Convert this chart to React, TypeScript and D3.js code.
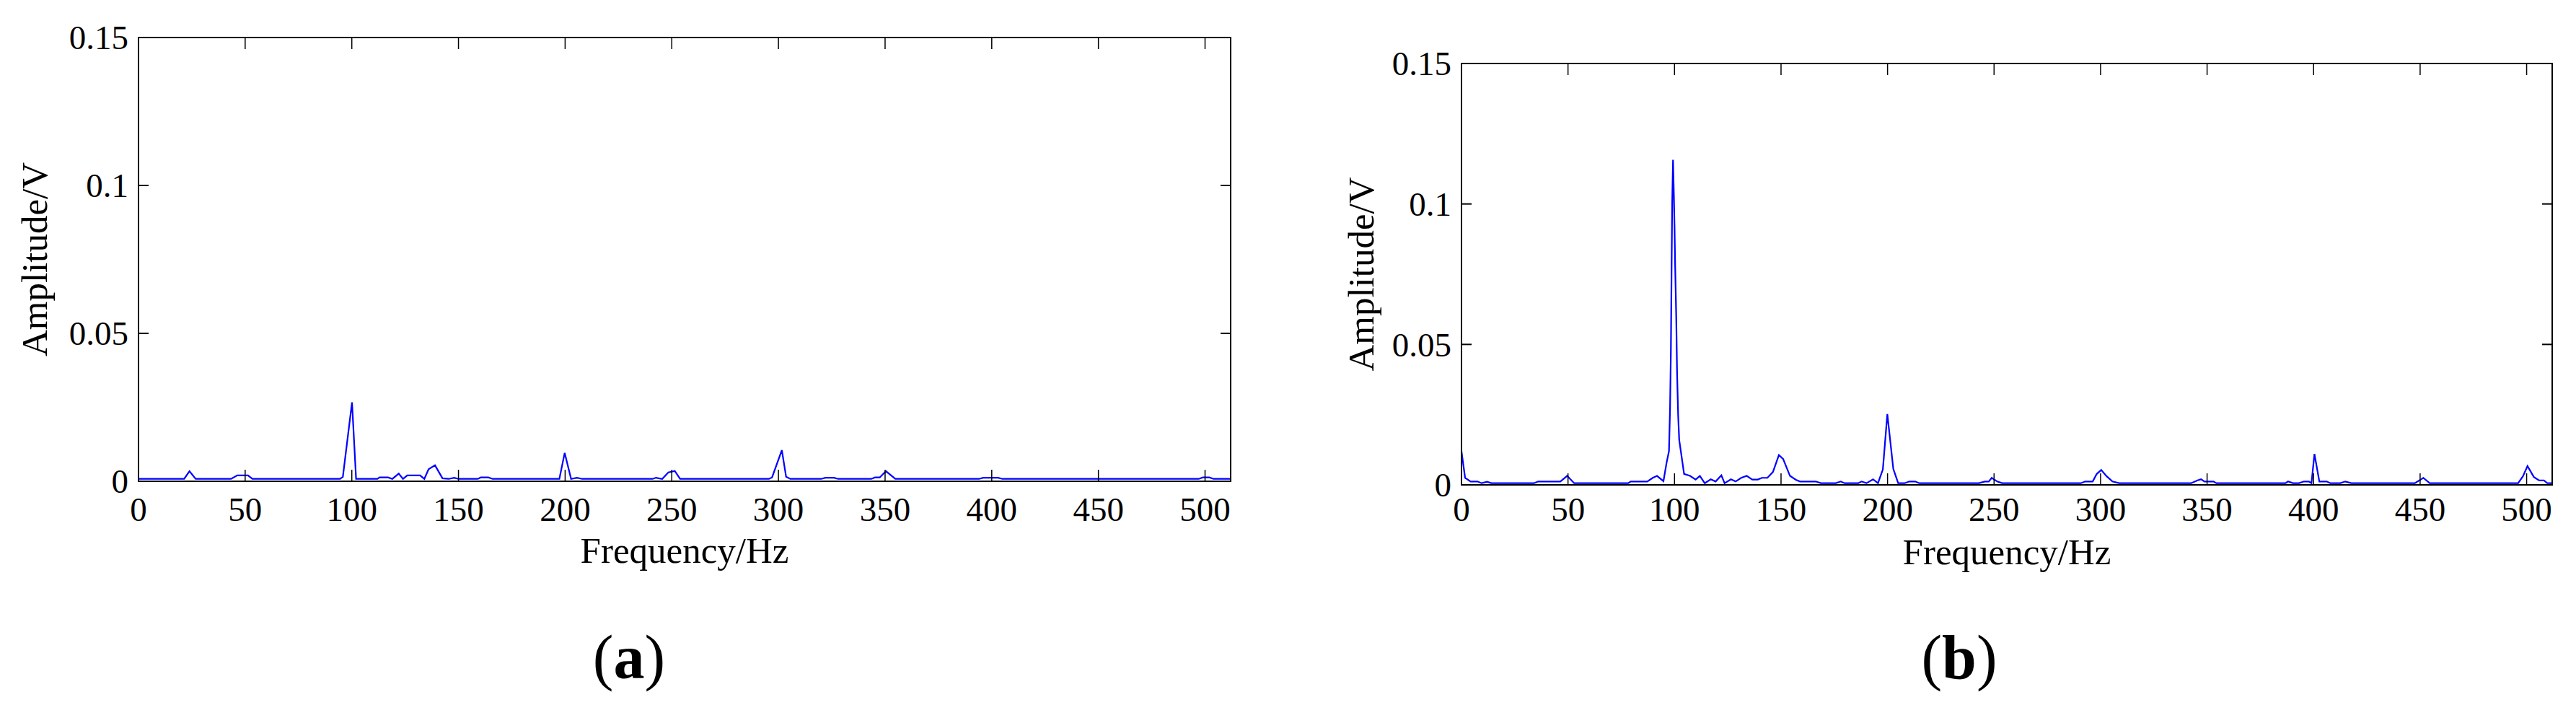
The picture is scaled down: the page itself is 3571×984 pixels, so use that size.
import React from "react";
import * as d3 from "d3";

// ---- Data ----
const xTicks = [0, 50, 100, 150, 200, 250, 300, 350, 400, 450, 500];
const xTickLabels = ["0", "50", "100", "150", "200", "250", "300", "350", "400", "450", "500"];
const yTicks = [0, 0.05, 0.1, 0.15];
const yTickLabels = ["0", "0.05", "0.1", "0.15"];

const freqA = [0, 21.4, 23.9, 26.8, 43.4, 46.3, 51.3, 53.4, 94.5, 95.8, 100.1, 102, 112, 113, 117, 119, 122, 124, 126, 132, 134, 136, 139, 142.5, 145.4, 148, 150, 159, 160.5, 164, 166, 197.3, 199.8, 202.8, 205.5, 208, 241, 242.6, 245.5, 248.4, 251.4, 253.9, 295.5, 297, 301.6, 303.6, 305.6, 320, 322, 326, 328, 343.5, 345.3, 347.5, 350.4, 354.8, 394, 396, 403, 405, 497, 499, 502, 504, 512];
const ampA = [0.0008, 0.0008, 0.0034, 0.0008, 0.0008, 0.002, 0.002, 0.0008, 0.0008, 0.0015, 0.0267, 0.0008, 0.0008, 0.0013, 0.0013, 0.0008, 0.0026, 0.0008, 0.002, 0.002, 0.0008, 0.0041, 0.0054, 0.001, 0.0008, 0.0012, 0.0008, 0.0008, 0.0013, 0.0013, 0.0008, 0.0008, 0.0096, 0.0008, 0.0012, 0.0008, 0.0008, 0.0012, 0.0008, 0.003, 0.0035, 0.0008, 0.0008, 0.0013, 0.0105, 0.0015, 0.0008, 0.0008, 0.0012, 0.0012, 0.0008, 0.0008, 0.0013, 0.0013, 0.0034, 0.0008, 0.0008, 0.0012, 0.0012, 0.0008, 0.0008, 0.0013, 0.0013, 0.0008, 0.0008];

const freqB = [0, 1.7, 4.3, 7.5, 9.5, 12, 14, 34, 36, 46.4, 49.6, 52.9, 78.2, 79.5, 87.2, 89.8, 91.8, 94.8, 96.3, 97.4, 97.9, 98.3, 98.6, 98.9, 99.3, 99.7, 100.0, 100.3, 100.8, 101.2, 101.7, 102.2, 104.5, 107.3, 109.9, 111.9, 114.2, 117, 119.3, 122, 123.5, 126.5, 128.7, 131.3, 133.9, 136.5, 139.1, 141, 143.6, 146.2, 149, 151, 154.2, 157, 158.9, 166.3, 168.7, 175.7, 178, 179.9, 186.2, 187.8, 190.1, 193.2, 195.5, 197.8, 199.9, 202.7, 205, 208, 210.2, 213, 214.9, 242.9, 245.7, 247.5, 248.9, 251.5, 253.8, 290.7, 292.8, 296.3, 298.2, 300.3, 302.8, 305.6, 308.7, 342.5, 345.5, 347.2, 348.8, 353, 354.4, 386.8, 388, 390.3, 393.1, 395.5, 397.8, 399, 400.4, 402.7, 406.2, 407.8, 412.5, 414.9, 417.7, 447.5, 451.5, 454.5, 496, 498.3, 500.4, 503.4, 505.8, 508.1, 509.7, 512];
const ampB = [0.012, 0.0025, 0.0012, 0.0012, 0.0006, 0.0011, 0.0006, 0.0006, 0.0012, 0.0012, 0.0032, 0.0006, 0.0006, 0.0012, 0.0012, 0.0025, 0.0032, 0.0013, 0.008, 0.012, 0.027, 0.048, 0.075, 0.1, 0.1157, 0.103, 0.092, 0.078, 0.06, 0.04, 0.025, 0.016, 0.0039, 0.0032, 0.0019, 0.0032, 0.0006, 0.002, 0.0012, 0.0034, 0.0006, 0.002, 0.0012, 0.0025, 0.0032, 0.0019, 0.0019, 0.0025, 0.0025, 0.0046, 0.0106, 0.0092, 0.0032, 0.0018, 0.0012, 0.0012, 0.0006, 0.0006, 0.0012, 0.0006, 0.0006, 0.0012, 0.0006, 0.002, 0.0006, 0.0055, 0.0252, 0.0057, 0.0006, 0.0006, 0.0012, 0.0012, 0.0006, 0.0006, 0.0012, 0.0012, 0.0025, 0.0012, 0.0006, 0.0006, 0.0012, 0.0012, 0.0039, 0.0053, 0.0031, 0.0012, 0.0006, 0.0006, 0.0016, 0.002, 0.0012, 0.0012, 0.0006, 0.0006, 0.0012, 0.0006, 0.0006, 0.0012, 0.0012, 0.0006, 0.011, 0.0012, 0.0012, 0.0006, 0.0006, 0.0012, 0.0006, 0.0006, 0.0025, 0.0006, 0.0006, 0.0031, 0.0067, 0.0028, 0.0016, 0.0016, 0.0006, 0.0006];

const xLabel = "Frequency/Hz";
const yLabel = "Amplitude/V";

const FONT = "'Liberation Serif', 'Times New Roman', serif";

type PanelProps = {
  id: string;
  freq: number[];
  amp: number[];
  left: number;
  right: number;
  top: number;
  bottom: number;
  yTitleX: number;
  xTickBaseline: number;
  xTitleBaseline: number;
  caption: string;
  captionX: number;
};

function Panel(p: PanelProps) {
  const x = d3.scaleLinear().domain([0, 512]).range([p.left, p.right]);
  const y = d3.scaleLinear().domain([0, 0.15]).range([p.bottom, p.top]);
  const pts: [number, number][] = p.freq.map((f, i) => [f, p.amp[i]]);
  const line = d3
    .line<[number, number]>()
    .x((d) => x(d[0]))
    .y((d) => y(d[1]));
  const xTickLen = 16;
  const yTickLen = 14;
  const cx = (p.left + p.right) / 2;
  const cy = (p.top + p.bottom) / 2;
  return (
    <g>
      <defs>
        <clipPath id={"clip" + p.id}>
          <rect x={p.left} y={p.top} width={p.right - p.left} height={p.bottom - p.top} />
        </clipPath>
      </defs>
      <path
        d={line(pts) || ""}
        fill="none"
        stroke="#0000ff"
        strokeWidth={2.2}
        strokeLinejoin="miter"
        clipPath={`url(#clip${p.id})`}
      />
      {xTicks.map((t) => (
        <g key={"xt" + t}>
          <line x1={x(t)} x2={x(t)} y1={p.bottom} y2={p.bottom - xTickLen} stroke="#000" strokeWidth={1.5} />
          <line x1={x(t)} x2={x(t)} y1={p.top} y2={p.top + xTickLen} stroke="#000" strokeWidth={1.5} />
        </g>
      ))}
      {yTicks.map((t) => (
        <g key={"yt" + t}>
          <line x1={p.left} x2={p.left + yTickLen} y1={y(t)} y2={y(t)} stroke="#000" strokeWidth={2} />
          <line x1={p.right} x2={p.right - yTickLen} y1={y(t)} y2={y(t)} stroke="#000" strokeWidth={2} />
        </g>
      ))}
      <rect
        x={p.left}
        y={p.top}
        width={p.right - p.left}
        height={p.bottom - p.top}
        fill="none"
        stroke="#000"
        strokeWidth={2}
      />
      {xTicks.map((t, i) => (
        <text
          key={"xl" + t}
          x={x(t)}
          y={p.xTickBaseline}
          textAnchor="middle"
          fontFamily={FONT}
          fontSize={47}
          fill="#000"
        >
          {xTickLabels[i]}
        </text>
      ))}
      {yTicks.map((t, i) => (
        <text
          key={"yl" + t}
          x={p.left - 14}
          y={y(t)}
          dy="0.35em"
          textAnchor="end"
          fontFamily={FONT}
          fontSize={47}
          fill="#000"
        >
          {yTickLabels[i]}
        </text>
      ))}
      <text x={cx} y={p.xTitleBaseline} textAnchor="middle" fontFamily={FONT} fontSize={51} fill="#000">
        {xLabel}
      </text>
      <text
        transform={`translate(${p.yTitleX},${cy}) rotate(-90)`}
        textAnchor="middle"
        fontFamily={FONT}
        fontSize={51}
        fill="#000"
      >
        {yLabel}
      </text>
      <text x={p.captionX} y={940} textAnchor="middle" fontFamily={FONT} fontSize={86} fill="#000">
        (<tspan fontWeight="bold">{p.caption}</tspan>)
      </text>
    </g>
  );
}

export default function App() {
  return (
    <svg
      width={3571}
      height={984}
      style={{ position: "absolute", left: 0, top: 0, background: "#fff" }}
    >
      <rect x={0} y={0} width={3571} height={984} fill="#fff" />
      <Panel
        id="a"
        freq={freqA}
        amp={ampA}
        left={192}
        right={1706}
        top={52}
        bottom={667}
        yTitleX={65}
        xTickBaseline={722}
        xTitleBaseline={780}
        caption="a"
        captionX={872}
      />
      <Panel
        id="b"
        freq={freqB}
        amp={ampB}
        left={2026}
        right={3538}
        top={88}
        bottom={672}
        yTitleX={1904}
        xTickBaseline={722}
        xTitleBaseline={782}
        caption="b"
        captionX={2716}
      />
    </svg>
  );
}
